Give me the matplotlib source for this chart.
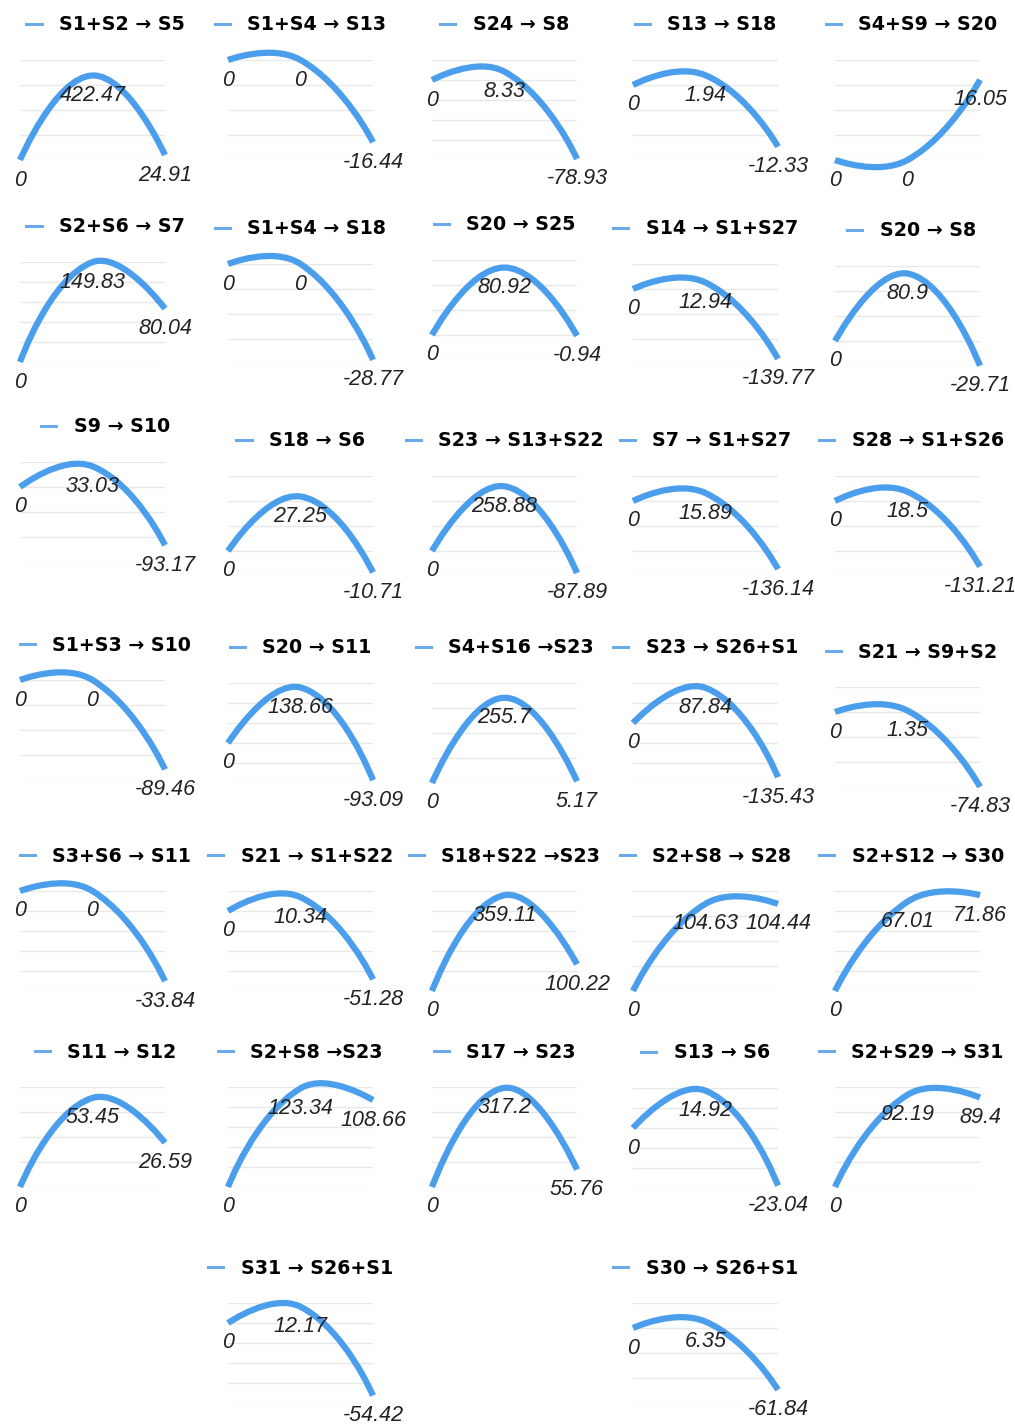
import numpy as np
import matplotlib
matplotlib.use("Agg")
import matplotlib.pyplot as plt
from matplotlib.lines import Line2D
from matplotlib.path import Path
from matplotlib.patches import PathPatch

# --- data -------------------------------------------------------------
titles = [
    "S1+S2 → S5", "S1+S4 → S13", "S24 → S8", "S13 → S18", "S4+S9 → S20",
    "S2+S6 → S7", "S1+S4 → S18", "S20 → S25", "S14 → S1+S27", "S20 → S8",
    "S9 → S10", "S18 → S6", "S23 → S13+S22", "S7 → S1+S27", "S28 → S1+S26",
    "S1+S3 → S10", "S20 → S11", "S4+S16 →S23", "S23 → S26+S1", "S21 → S9+S2",
    "S3+S6 → S11", "S21 → S1+S22", "S18+S22 →S23", "S2+S8 → S28", "S2+S12 → S30",
    "S11 → S12", "S2+S8 →S23", "S17 → S23", "S13 → S6", "S2+S29 → S31",
    "S31 → S26+S1", "S30 → S26+S1",
]
start_vals = [0, 0, 0, 0, 0,
              0, 0, 0, 0, 0,
              0, 0, 0, 0, 0,
              0, 0, 0, 0, 0,
              0, 0, 0, 0, 0,
              0, 0, 0, 0, 0,
              0, 0]
mid_vals = [422.47, 0, 8.33, 1.94, 0,
            149.83, 0, 80.92, 12.94, 80.9,
            33.03, 27.25, 258.88, 15.89, 18.5,
            0, 138.66, 255.7, 87.84, 1.35,
            0, 10.34, 359.11, 104.63, 67.01,
            53.45, 123.34, 317.2, 14.92, 92.19,
            12.17, 6.35]
end_vals = [24.91, -16.44, -78.93, -12.33, 16.05,
            80.04, -28.77, -0.94, -139.77, -29.71,
            -93.17, -10.71, -87.89, -136.14, -131.21,
            -89.46, -93.09, 5.17, -135.43, -74.83,
            -33.84, -51.28, 100.22, 104.44, 71.86,
            26.59, 108.66, 55.76, -23.04, 89.4,
            -54.42, -61.84]

# --- layout (pixels in a 1015x1425 canvas) ----------------------------
W, H = 1015, 1425
col_left = [20, 228, 432, 633, 835]
legend_shift = [13, 0, 0, 0, 4]
plot_w, plot_h = 145, 100
panel_col = [0, 1, 2, 3, 4] * 6 + [1, 3]
title_y = [25, 25, 25, 25, 25,
           227, 229, 225, 229, 231,
           427, 441, 441, 441, 441,
           645, 648, 648, 648, 652,
           856, 856, 856, 856, 856,
           1052, 1052, 1052, 1053, 1052,
           1268, 1268]

LINE_COLOR = "#4a9eec"


def nice_range(lo, hi):
    for allowed in ((4, 5), (3, 4, 5, 6)):
        best = None
        for k in range(-3, 5):
            for m in (1, 1.25, 1.5, 2, 2.5, 3, 4, 5, 6, 7.5, 8):
                step = m * 10 ** k
                a = np.floor(lo / step + 1e-9) * step
                b = np.ceil(hi / step - 1e-9) * step
                n = int(round((b - a) / step))
                if n not in allowed:
                    continue
                key = (round(b - a, 9), n)
                if best is None or key < best[0]:
                    best = (key, a, b, step)
        if best is not None:
            return best[1], best[2], best[3]
    return lo, hi, (hi - lo) / 4


def smooth_path(xs, ys, sx, sy, smooth=0.5):
    # bezier smoothing done in pixel space, returned in data space
    pts = np.column_stack([np.asarray(xs, float) * sx, np.asarray(ys, float) * sy])
    n = len(pts)
    cps = []
    for i in range(n):
        if i == 0 or i == n - 1:
            cps.append((pts[i], pts[i]))
            continue
        v = (pts[i + 1] - pts[i - 1]) * smooth
        d0 = np.hypot(*(pts[i] - pts[i - 1]))
        d1 = np.hypot(*(pts[i + 1] - pts[i]))
        tot = d0 + d1 if d0 + d1 else 1.0
        cps.append((pts[i] - v * d0 / tot, pts[i] + v * d1 / tot))
    verts = [pts[0]]
    codes = [Path.MOVETO]
    for i in range(1, n):
        verts += [cps[i - 1][1], cps[i][0], pts[i]]
        codes += [Path.CURVE4] * 3
    verts = np.array(verts) / np.array([sx, sy])
    return Path(verts, codes)


fig = plt.figure(figsize=(W / 100, H / 100), dpi=100)
fig.patch.set_facecolor("white")

for i, title in enumerate(titles):
    c = panel_col[i]
    x0 = col_left[c]
    top = title_y[i] + 35
    ax = fig.add_axes([x0 / W, 1 - (top + plot_h) / H, plot_w / W, plot_h / H])
    xs = [0, 1, 2]
    ys = [start_vals[i], mid_vals[i], end_vals[i]]
    lo, hi, step = nice_range(min(ys), max(ys))
    ax.set_xlim(0, 2)
    ax.set_ylim(lo, hi)
    ax.axis("off")
    for t in np.arange(lo, hi + step / 2, step):
        ax.axhline(t, color="#e8e8e8", lw=1, zorder=0)

    path = smooth_path(xs, ys, plot_w / 2, plot_h / (hi - lo))
    ax.add_patch(PathPatch(path, fill=False, edgecolor=LINE_COLOR, lw=4.5,
                           capstyle="butt", joinstyle="round", clip_on=False, zorder=2))

    for x, y in zip(xs, ys):
        ax.annotate(f"{y:g}", (x, y), xytext=(0, -20), textcoords="offset pixels",
                    ha="center", va="center", fontstyle="italic", fontsize=15.5,
                    family=["Liberation Sans", "DejaVu Sans"], color="#222222",
                    zorder=3, annotation_clip=False)

    handle = Line2D([], [], color="#6aaae8", lw=2.2)
    ax.legend([handle], [title], loc="center",
              bbox_to_anchor=((x0 + plot_w / 2 + legend_shift[c]) / W, 1 - title_y[i] / H),
              bbox_transform=fig.transFigure, frameon=False,
              handlelength=0.8, handletextpad=0.9, borderpad=0, borderaxespad=0,
              prop={"family": "DejaVu Sans", "weight": "bold", "size": 13.7})

fig.savefig("out.png", dpi=100, facecolor="white")
